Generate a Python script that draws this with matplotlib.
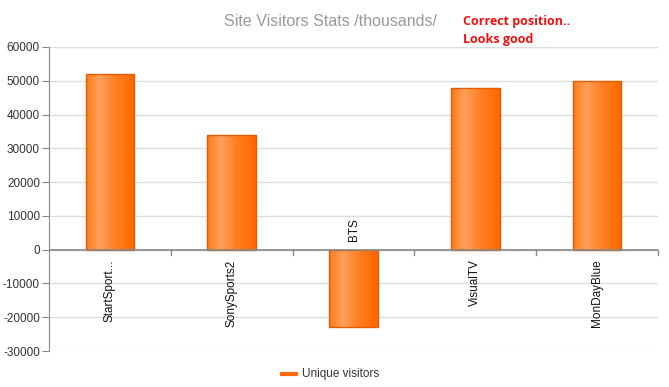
import matplotlib
matplotlib.use("Agg")
import matplotlib.pyplot as plt
import matplotlib.colors as mplcolors
import matplotlib.transforms as mtransforms
import numpy as np

categories = ["StartSport...", "SonySports2", "BTS", "VisualTV", "MonDayBlue"]
visitors = [52000, 34000, -23000, 48000, 50000]
y_ticks = [-30000, -20000, -10000, 0, 10000, 20000, 30000, 40000, 50000, 60000]

plt.rcParams["font.family"] = ["Liberation Sans", "DejaVu Sans"]
plt.rcParams["axes.unicode_minus"] = False

# horizontal gradient used on every bar
grad_cmap = mplcolors.LinearSegmentedColormap.from_list(
    "bar", [(0.0, "#ff7a16"), (0.28, "#ffa05c"), (0.6, "#ff7f22"), (1.0, "#ff6600")])

fig = plt.figure(figsize=(6.69, 3.87), dpi=100)
ax = fig.add_axes([49 / 669, 36 / 387, 609 / 669, 304 / 387])

x = np.arange(len(categories))
bars = ax.bar(x, visitors, width=0.4, color="none", edgecolor="#e25d00",
              linewidth=1.0, zorder=3)

grad = np.linspace(0, 1, 256).reshape(1, -1)
for b in bars:
    x0, y0 = b.get_x(), b.get_y()
    w, h = b.get_width(), b.get_height()
    im = ax.imshow(grad, cmap=grad_cmap, aspect="auto",
                   extent=[x0, x0 + w, min(y0, y0 + h), max(y0, y0 + h)],
                   zorder=2)
    im.set_clip_path(b)

ax.set_xlim(-0.5, len(categories) - 0.5)
ax.set_ylim(-30000, 60000)
ax.set_yticks(y_ticks)
ax.tick_params(axis="y", length=5, color="#888888", labelsize=8.5,
               labelcolor="#333333", pad=1.5)
ax.set_xticks([])
ax.grid(axis="y", color="#dddddd", linewidth=1, zorder=0)
ax.set_axisbelow(True)

for side in ["top", "right", "bottom"]:
    ax.spines[side].set_visible(False)
ax.spines["left"].set_color("#888888")
ax.axhline(0, color="#888888", linewidth=1.2, zorder=4)

# small ticks on the zero line between categories
for bx in np.arange(0.5, len(categories), 1):
    ax.plot([bx, bx], [0, -1500], color="#888888", linewidth=1, zorder=4,
            clip_on=False)

# category labels next to the zero line
for xi, name, v in zip(x, categories, visitors):
    if v >= 0:
        off = mtransforms.offset_copy(ax.transData, fig=fig, x=0, y=-7, units="points")
        ax.text(xi, 0, name, rotation=90, ha="center", va="top", fontsize=8.5,
                color="#111111", transform=off)
    else:
        off = mtransforms.offset_copy(ax.transData, fig=fig, x=0, y=6, units="points")
        ax.text(xi, 0, name, rotation=90, ha="center", va="bottom", fontsize=8.5,
                color="#111111", transform=off)

fig.text(330 / 669, 1 - 22 / 387, "Site Visitors Stats /thousands/", ha="center",
         va="center", fontsize=11.5, color="#999999")
fig.text(463 / 669, 1 - 22 / 387, "Correct position..", ha="left", va="center",
         fontsize=9, color="#ee1111", fontweight="bold", family="Open Sans")
fig.text(463 / 669, 1 - 40 / 387, "Looks good", ha="left", va="center",
         fontsize=9, color="#ee1111", fontweight="bold", family="Open Sans")

# legend
fig.lines.append(plt.Line2D([282 / 669, 296 / 669], [1 - 374 / 387, 1 - 374 / 387],
                            color="#ff6a10", linewidth=3, transform=fig.transFigure))
fig.text(302 / 669, 1 - 374 / 387, "Unique visitors", ha="left", va="center",
         fontsize=8.5, color="#333333")

fig.savefig("out.png", dpi=100)
